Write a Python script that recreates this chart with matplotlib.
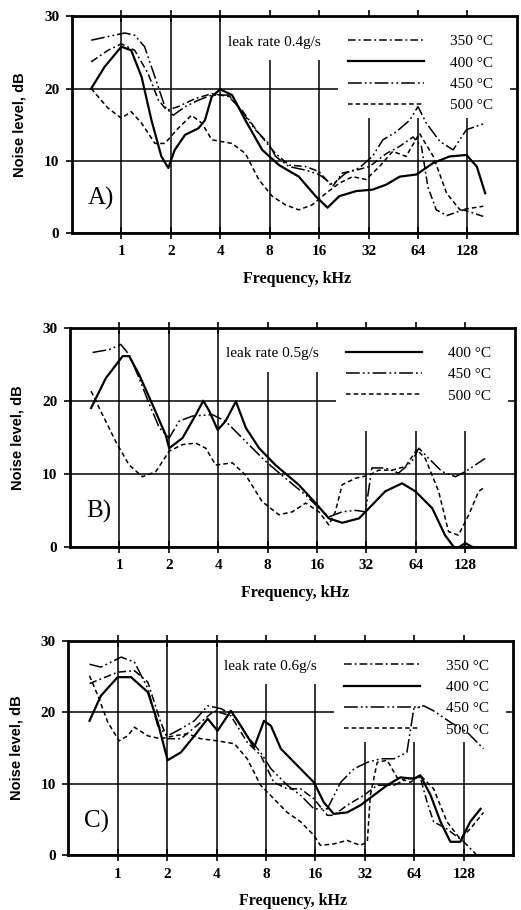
import numpy as np
import matplotlib
matplotlib.use("Agg")
import matplotlib.pyplot as plt
from matplotlib.patches import Rectangle

plt.rcParams['font.family'] = ['Liberation Serif', 'DejaVu Sans']

# x положения в октавах относительно 1 kHz  (f = 2**oct, kHz)
FREQ_TICKS = [1, 2, 4, 8, 16, 32, 64, 128]
Y_TICKS = [0, 10, 20, 30]

# ---- panel A, leak rate 0.4 g/s
a350_oct = [-0.61, -0.27, 0, 0.27, 0.54, 0.75, 0.92, 1.15, 1.49, 1.83, 2.17, 2.44, 2.78, 3.12, 3.39,
            3.73, 4.0, 4.27, 4.47, 4.75, 5.02, 5.36, 5.63, 5.90, 6.07, 6.20, 6.37, 6.58, 6.92, 7.32]
a350_db = [23.7, 25.3, 26.2, 25.3, 22.1, 18.4, 17.0, 17.5, 18.6, 19.3, 18.9, 17.0, 13.8, 11.0, 9.4,
           9.2, 8.5, 6.4, 8.3, 8.7, 9.2, 11.0, 12.0, 13.3, 12.0, 6.4, 3.2, 2.4, 3.2, 2.3]
a400_oct = [-0.61, -0.34, 0, 0.20, 0.41, 0.61, 0.81, 0.95, 1.08, 1.29, 1.56, 1.69, 1.83, 2.0, 2.24, 2.51,
            2.85, 3.19, 3.59, 3.93, 4.17, 4.41, 4.75, 5.08, 5.36, 5.63, 5.97, 6.31, 6.64, 6.98, 7.19, 7.36]
a400_db = [20.0, 23.0, 25.8, 25.3, 21.6, 15.6, 10.6, 9.0, 11.5, 13.6, 14.5, 15.6, 18.9, 19.9, 19.1, 15.6,
           11.5, 9.4, 7.8, 5.1, 3.5, 5.1, 5.8, 6.0, 6.7, 7.8, 8.1, 9.7, 10.6, 10.8, 9.2, 5.5]
a450_oct = [-0.61, -0.27, 0.07, 0.27, 0.47, 0.68, 0.88, 1.05, 1.29, 1.56, 1.83, 2.17, 2.44, 2.71, 2.98, 3.12,
            3.39, 3.73, 4.0, 4.27, 4.54, 4.81, 5.08, 5.29, 5.56, 5.83, 6.0, 6.17, 6.44, 6.71, 6.98, 7.36]
a450_db = [26.7, 27.2, 27.7, 27.4, 25.8, 21.6, 17.5, 16.3, 17.5, 18.4, 19.1, 19.1, 16.8, 14.3, 12.4, 10.6,
           9.2, 8.7, 8.1, 6.7, 8.3, 9.0, 10.6, 12.9, 14.0, 15.6, 17.5, 15.2, 12.7, 11.5, 14.3, 15.2]
a500_oct = [-0.61, -0.27, 0, 0.20, 0.41, 0.68, 0.88, 1.15, 1.42, 1.63, 1.83, 2.24, 2.51, 2.78, 3.05,
            3.32, 3.59, 3.86, 4.14, 4.41, 4.68, 4.95, 5.22, 5.49, 5.76, 6.03, 6.31, 6.58, 6.85, 7.32]
a500_db = [20.0, 17.3, 15.9, 16.8, 15.2, 12.4, 12.4, 14.5, 16.3, 15.2, 12.9, 12.4, 11.0, 7.4, 5.1,
           3.9, 3.2, 3.9, 5.5, 6.9, 7.8, 7.4, 9.2, 11.3, 10.6, 13.8, 10.6, 5.5, 3.2, 3.7]

# ---- panel B, leak rate 0.5 g/s
b400_oct = [-0.57, -0.27, 0.07, 0.20, 0.40, 0.67, 0.94, 1.01, 1.28, 1.55, 1.70, 1.82, 1.99, 2.15, 2.36, 2.56,
            2.83, 3.16, 3.63, 3.97, 4.24, 4.51, 4.85, 5.11, 5.38, 5.72, 5.99, 6.33, 6.59, 6.80, 7.0, 7.20]
b400_db = [19.0, 23.1, 26.1, 26.1, 23.6, 19.5, 15.3, 13.5, 14.9, 18.1, 20.0, 18.6, 16.0, 17.2, 19.9, 16.3,
           13.5, 11.2, 8.5, 6.0, 3.9, 3.3, 3.9, 5.7, 7.6, 8.7, 7.6, 5.3, 1.6, -0.3, 0.5, -0.2]
b450_oct = [-0.54, -0.20, 0.03, 0.20, 0.40, 0.61, 0.81, 1.01, 1.21, 1.48, 1.88, 2.15, 2.56, 2.96, 3.36,
            3.77, 4.04, 4.24, 4.51, 4.78, 4.98, 5.11, 5.38, 5.65, 5.92, 6.06, 6.26, 6.53, 6.80, 7.0, 7.40]
b450_db = [26.6, 27.0, 27.7, 26.3, 23.1, 19.5, 16.3, 14.9, 17.2, 17.9, 18.1, 17.2, 14.4, 11.7, 9.4,
           7.1, 5.3, 4.1, 4.8, 5.0, 4.8, 10.8, 10.8, 10.1, 11.7, 13.5, 12.1, 10.3, 9.6, 10.3, 12.1]
b500_oct = [-0.57, -0.34, -0.07, 0.20, 0.47, 0.74, 1.01, 1.28, 1.55, 1.75, 1.95, 2.29, 2.56, 2.89, 3.23, 3.50, 3.77,
            4.04, 4.24, 4.37, 4.51, 4.78, 5.05, 5.25, 5.52, 5.79, 6.02, 6.19, 6.46, 6.66, 6.86, 7.07, 7.27, 7.40]
b500_db = [21.3, 18.1, 14.4, 11.2, 9.6, 10.3, 13.1, 14.0, 14.2, 13.5, 11.2, 11.5, 9.8, 6.2, 4.4, 4.8, 6.0,
           4.8, 3.0, 4.8, 8.5, 9.4, 9.8, 10.5, 10.5, 11.0, 13.3, 12.1, 7.6, 2.1, 1.6, 4.4, 7.6, 8.2]

# ---- panel C, leak rate 0.6 g/s
c350_oct = [-0.57, 0, 0.34, 0.61, 0.87, 1.01, 1.28, 1.68, 1.95, 2.29, 2.62, 2.89, 3.16, 3.43, 3.70, 3.97,
            4.24, 4.37, 4.64, 4.98, 5.25, 5.59, 5.85, 6.12, 6.26, 6.39, 6.66, 7.0, 7.27]
c350_db = [24.0, 25.6, 25.8, 24.2, 18.6, 16.3, 16.3, 18.6, 20.2, 19.5, 15.8, 14.0, 10.2, 9.3, 9.3, 7.9,
           5.6, 5.6, 7.0, 8.4, 9.8, 9.8, 10.7, 10.9, 7.4, 4.7, 3.7, 1.9, 0.0]
c400_oct = [-0.57, -0.34, 0, 0.27, 0.61, 0.81, 1.01, 1.28, 1.55, 1.82, 2.02, 2.29, 2.49, 2.76, 2.96, 3.10, 3.30,
            3.57, 3.97, 4.17, 4.37, 4.64, 4.91, 5.18, 5.45, 5.72, 5.99, 6.12, 6.33, 6.53, 6.73, 6.93, 7.13, 7.34]
c400_db = [18.8, 22.3, 24.9, 24.9, 22.8, 18.6, 13.3, 14.4, 16.7, 19.1, 17.4, 20.2, 18.1, 15.1, 18.8, 18.1, 14.9,
           13.0, 10.2, 7.4, 5.8, 6.0, 7.0, 8.4, 9.8, 10.9, 10.7, 11.2, 8.4, 4.7, 1.9, 1.9, 4.7, 6.5]
c450_oct = [-0.57, -0.34, 0.07, 0.34, 0.61, 0.81, 1.01, 1.28, 1.55, 1.82, 2.09, 2.36, 2.62, 2.89, 3.10, 3.43,
            3.70, 3.97, 4.24, 4.51, 4.78, 5.05, 5.32, 5.59, 5.85, 5.99, 6.19, 6.39, 6.73, 7.07, 7.40]
c450_db = [26.7, 26.3, 27.7, 27.0, 23.3, 18.1, 16.7, 17.7, 18.8, 20.9, 20.5, 19.5, 16.7, 14.4, 12.1, 9.8,
           8.4, 6.5, 6.5, 10.2, 12.1, 13.0, 13.5, 13.5, 14.4, 20.5, 20.9, 20.2, 18.6, 17.2, 14.9]
c500_oct = [-0.57, -0.40, -0.20, 0.03, 0.20, 0.34, 0.61, 0.87, 1.14, 1.41, 1.68, 2.02, 2.36, 2.62, 2.89, 3.16, 3.43,
            3.70, 3.97, 4.10, 4.37, 4.64, 4.91, 5.05, 5.11, 5.25, 5.45, 5.65, 5.92, 6.12, 6.39, 6.66, 6.93, 7.13, 7.40]
c500_db = [25.1, 22.3, 18.6, 16.0, 16.7, 17.9, 16.7, 16.3, 16.7, 17.0, 16.3, 16.0, 15.6, 13.5, 9.8, 7.9, 6.0,
           4.7, 2.8, 1.4, 1.6, 2.1, 1.4, 1.9, 8.4, 13.0, 13.3, 10.9, 10.2, 11.2, 9.3, 4.7, 2.3, 3.7, 6.0]

PANELS = [
    ("A)", "leak rate 0.4g/s", [("350", a350_oct, a350_db), ("400", a400_oct, a400_db),
                                ("450", a450_oct, a450_db), ("500", a500_oct, a500_db)]),
    ("B)", "leak rate 0.5g/s", [("400", b400_oct, b400_db), ("450", b450_oct, b450_db),
                                ("500", b500_oct, b500_db)]),
    ("C)", "leak rate 0.6g/s", [("350", c350_oct, c350_db), ("400", c400_oct, c400_db),
                                ("450", c450_oct, c450_db), ("500", c500_oct, c500_db)]),
]

STYLES = {
    "350": dict(dashes=(5, 2, 1.2, 2), lw=1.1),
    "400": dict(ls="-", lw=1.6),
    "450": dict(dashes=(9, 2, 1.2, 2, 1.2, 2), lw=1.1),
    "500": dict(dashes=(3, 2), lw=1.1),
}

AX_POS = [[0.138, 0.744, 0.854, 0.238],
          [0.134, 0.399, 0.854, 0.241],
          [0.131, 0.060, 0.854, 0.236]]

fig = plt.figure(figsize=(5.21, 9.10), dpi=100)

for (tag, rate, series), pos in zip(PANELS, AX_POS):
    ax = fig.add_axes(pos)
    ax.set_xscale("log", base=2)
    ax.set_xlim(0.5, 256)
    ax.set_ylim(0, 30)
    ax.set_xticks(FREQ_TICKS, labels=[str(t) for t in FREQ_TICKS])
    ax.minorticks_off()
    ax.set_yticks(Y_TICKS)
    ax.set_axisbelow(True)
    ax.grid(True, color="black", lw=1.1)
    for s in ax.spines.values():
        s.set_linewidth(2)
    ax.tick_params(axis="x", direction="inout", length=8, width=1.2, pad=5, top=True,
                   labelsize=11)
    ax.tick_params(axis="y", direction="out", length=4, width=1.2, pad=5, labelsize=11)
    for lab in ax.get_xticklabels() + ax.get_yticklabels():
        lab.set_fontweight("bold")

    # белые подложки под подписью и легендой (обрывают сетку)
    ax.add_patch(Rectangle((0.346, 0.797), 0.252, 0.203, transform=ax.transAxes,
                           fc="white", ec="none", zorder=1))
    ax.add_patch(Rectangle((0.598, 0.530), 0.386, 0.470, transform=ax.transAxes,
                           fc="white", ec="none", zorder=1))

    for temp, octs, db in series:
        khz = 2.0 ** np.array(octs)
        ax.plot(khz, db, color="black", label=f"{temp} °C", zorder=2, **STYLES[temp])

    ax.text(0.351, 0.88, rate, transform=ax.transAxes, fontsize=11, va="center", zorder=3)
    ax.text(0.036, 0.16, tag, transform=ax.transAxes, fontsize=18, va="center")

    ax.legend(loc="upper left", bbox_to_anchor=(0.62, 0.915), frameon=False,
              handlelength=5.0, handletextpad=1.7, labelspacing=0.5, borderpad=0,
              borderaxespad=0, fontsize=11)

    ax.set_ylabel("Noise level, dB", family=["Liberation Sans", "DejaVu Sans"],
                  fontweight="bold", fontsize=10.5)
    ax.set_xlabel("Frequency, kHz", fontweight="bold", fontsize=11.5)
    ax.yaxis.set_label_coords(-0.101, 0.5)
    ax.xaxis.set_label_coords(0.506, -0.175)

fig.savefig("out.png", dpi=100)
